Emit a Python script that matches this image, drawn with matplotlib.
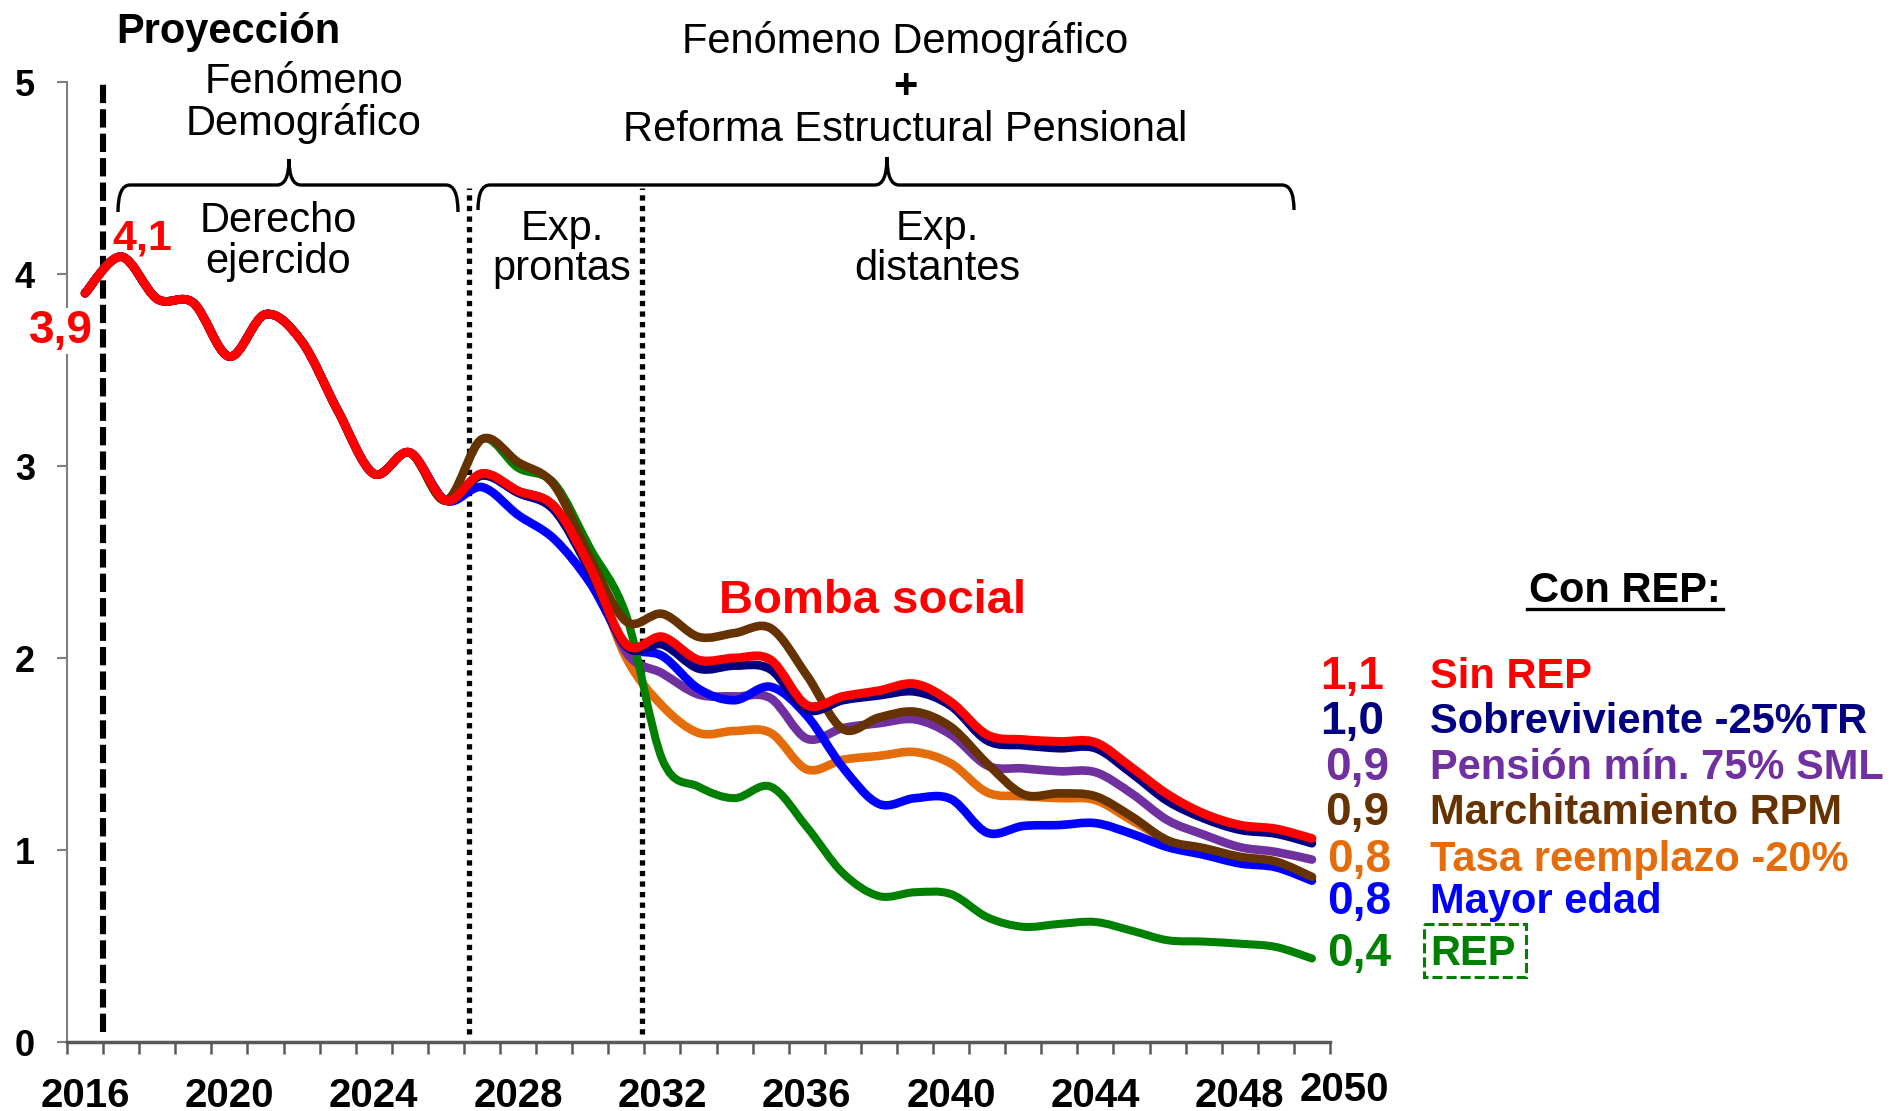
import numpy as np
import matplotlib
matplotlib.use("Agg")
import matplotlib.pyplot as plt
from matplotlib.path import Path
from matplotlib.patches import PathPatch, Rectangle
from matplotlib.lines import Line2D
from matplotlib.transforms import Affine2D

plt.rcParams['font.family'] = ['Liberation Sans', 'DejaVu Sans']

# ---------------- data ----------------
years = list(range(2016, 2051))
common = [3.90, 4.09, 3.87, 3.85, 3.57, 3.79, 3.65, 3.29, 2.96, 3.07, 2.82]  # 2016-2026

sin_rep = common + [2.96, 2.87, 2.79, 2.47, 2.07, 2.11, 1.99, 2.00, 1.99, 1.755, 1.80, 1.83,
                    1.865, 1.77, 1.60, 1.575, 1.565, 1.56, 1.43, 1.29, 1.19, 1.13, 1.11, 1.06]
sobreviviente = common + [2.95, 2.86, 2.77, 2.45, 2.06, 2.07, 1.945, 1.96, 1.94, 1.73, 1.78, 1.805,
                          1.825, 1.75, 1.57, 1.545, 1.53, 1.53, 1.40, 1.255, 1.165, 1.105, 1.085, 1.035]
pension_min = common + [2.96, 2.87, 2.79, 2.47, 2.03, 1.92, 1.81, 1.80, 1.79, 1.58, 1.635, 1.66,
                        1.68, 1.60, 1.44, 1.425, 1.41, 1.405, 1.295, 1.155, 1.08, 1.015, 0.99, 0.95]
marchitamiento = common + [3.14, 3.02, 2.90, 2.52, 2.19, 2.23, 2.11, 2.13, 2.155, 1.91, 1.63, 1.69,
                           1.72, 1.64, 1.45, 1.29, 1.295, 1.28, 1.175, 1.05, 1.01, 0.965, 0.94, 0.86]
tasa_reemplazo = common + [2.96, 2.87, 2.79, 2.47, 2.00, 1.75, 1.61, 1.62, 1.61, 1.42, 1.47, 1.49,
                           1.51, 1.45, 1.30, 1.28, 1.27, 1.26, 1.155, 1.05, 0.985, 0.94, 0.92, 0.855]
mayor_edad = common + [2.89, 2.745, 2.62, 2.39, 2.07, 2.01, 1.84, 1.78, 1.85, 1.70, 1.43, 1.24,
                       1.27, 1.265, 1.09, 1.125, 1.13, 1.14, 1.085, 1.015, 0.975, 0.93, 0.91, 0.84]
rep = common + [3.14, 2.99, 2.91, 2.57, 2.22, 1.47, 1.33, 1.27, 1.33, 1.12, 0.88, 0.76,
                0.78, 0.77, 0.65, 0.60, 0.615, 0.625, 0.58, 0.53, 0.523, 0.512, 0.495, 0.435]

x_labels = ['2016', '2020', '2024', '2028', '2032', '2036', '2040', '2044', '2048']
x_label_years = [2016, 2020, 2024, 2028, 2032, 2036, 2040, 2044, 2048]
y_ticks = [0, 1, 2, 3, 4, 5]

legend_values = ['1,1', '1,0', '0,9', '0,9', '0,8', '0,8', '0,4']
legend_names = ['Sin REP', 'Sobreviviente -25%TR', 'Pensión mín. 75% SML', 'Marchitamiento RPM',
                'Tasa reemplazo -20%', 'Mayor edad', 'REP']

RED = '#FF0000'; NAVY = '#000080'; PURPLE = '#7030A0'; BROWN = '#663300'
ORANGE = '#E46C0A'; BLUE = '#0000FF'; GREEN = '#008000'
legend_colors = [RED, NAVY, PURPLE, BROWN, ORANGE, BLUE, GREEN]

# ---------------- figure ----------------
W, H = 1896, 1111
fig = plt.figure(figsize=(W / 100, H / 100), dpi=100)
ax = fig.add_axes([67 / W, 1 - 1042 / H, (1330 - 67) / W, (1042 - 82) / H])
ax.set_xlim(2015.5, 2050.5)
ax.set_ylim(0, 5)

px = Affine2D().scale(1 / W, -1 / H).translate(0, 1) + fig.transFigure


def smooth_path(x, y):
    x = np.asarray(x, float); y = np.asarray(y, float)
    n = len(x)
    verts = [(x[0], y[0])]
    codes = [Path.MOVETO]
    for i in range(n - 1):
        p0 = np.array([x[max(i - 1, 0)], y[max(i - 1, 0)]])
        p1 = np.array([x[i], y[i]])
        p2 = np.array([x[i + 1], y[i + 1]])
        p3 = np.array([x[min(i + 2, n - 1)], y[min(i + 2, n - 1)]])
        c1 = p1 + (p2 - p0) / 6
        c2 = p2 - (p3 - p1) / 6
        verts += [tuple(c1), tuple(c2), tuple(p2)]
        codes += [Path.CURVE4] * 3
    return Path(verts, codes)


series = [(tasa_reemplazo, ORANGE, 6.2), (pension_min, PURPLE, 6.2), (mayor_edad, BLUE, 6.2),
          (rep, GREEN, 5.8), (marchitamiento, BROWN, 6.2), (sobreviviente, NAVY, 6.2),
          (sin_rep, RED, 6.4)]
for i, (vals, col, lw) in enumerate(series):
    patch = PathPatch(smooth_path(years, vals), fill=False, edgecolor=col, lw=lw,
                      capstyle='round', joinstyle='round', zorder=3 + i * 0.1)
    ax.add_patch(patch)

# vertical separators
ax.plot([2016.5, 2016.5], [0.05, 5.0], color='black', lw=4.4, dashes=(3.0, 1.0),
        clip_on=False, zorder=2)
for xv in [2026.65, 2031.43]:
    ax.plot([xv, xv], [0.04, 4.45], color='black', lw=3.8, dashes=(1.0, 1.0),
            clip_on=False, zorder=2, solid_capstyle='butt', dash_capstyle='butt')

# axes styling
for s in ['top', 'right']:
    ax.spines[s].set_visible(False)
ax.spines['left'].set_color('#7f7f7f'); ax.spines['left'].set_linewidth(1.5)
ax.spines['bottom'].set_color('#595959'); ax.spines['bottom'].set_linewidth(2.5)
ax.set_yticks(y_ticks)
ax.set_yticklabels([str(v) for v in y_ticks], fontsize=26, fontweight='bold')
ax.tick_params(axis='y', length=7.2, width=1.5, color='#7f7f7f', pad=16)
ax.set_xticks(x_label_years)
ax.set_xticklabels(x_labels, fontsize=29, fontweight='bold')
ax.tick_params(axis='x', which='major', length=0, pad=25)
ax.set_xticks([2015.5 + k for k in range(36)], minor=True)
ax.tick_params(axis='x', which='minor', length=8.6, width=1.8, color='#595959', direction='out')

# ---------------- annotations ----------------
def T(x, y, s, size, weight='normal', color='black', ha='center', **kw):
    fig.text(x / W, 1 - y / H, s, fontsize=size, fontweight=weight, color=color,
             ha=ha, va='baseline', **kw)

T(1344, 1101, '2050', 29, 'bold')
T(228, 43, 'Proyección', 30, 'bold')
T(304, 93, 'Fenómeno', 30)
T(304, 135, 'Demográfico', 30)
T(278, 232, 'Derecho', 30)
T(278, 273, 'ejercido', 30)
T(905, 53, 'Fenómeno Demográfico', 30)
T(905, 98, '+', 30, 'bold')
T(905, 141, 'Reforma Estructural Pensional', 30)
T(562, 240, 'Exp.', 30)
T(562, 280, 'prontas', 30)
T(937, 240, 'Exp.', 30)
T(937, 280, 'distantes', 30)
T(873, 613, 'Bomba social', 34, 'bold', RED)
T(142, 250, '4,1', 31, 'bold', RED)
T(61, 343, '3,9', 33, 'bold', RED,
  bbox=dict(facecolor='white', edgecolor='none', pad=1))


def brace(x0, x1, xm, yh, yb, yt, r=12):
    verts = [(x0, yb), (x0, yh), (x0 + r, yh), (xm - r, yh), (xm, yh), (xm, yt),
             (xm, yh), (xm + r, yh), (x1 - r, yh), (x1, yh), (x1, yb)]
    codes = [Path.MOVETO, Path.CURVE3, Path.CURVE3, Path.LINETO, Path.CURVE3, Path.CURVE3,
             Path.CURVE3, Path.CURVE3, Path.LINETO, Path.CURVE3, Path.CURVE3]
    fig.add_artist(PathPatch(Path(verts, codes), fill=False, edgecolor='black', lw=2.4,
                             transform=px))

brace(118, 458, 289, 185, 212, 159)
brace(478, 1294, 887, 185, 210, 157)

# legend block
T(1625, 602, 'Con REP:', 30, 'bold')
fig.add_artist(Line2D([1527, 1723], [609, 609], color='black', lw=2.4, transform=px))
row_y = [673, 718, 764, 809, 856, 898, 950]
num_x = [1320, 1320, 1325, 1325, 1327, 1327, 1327]
for yv, nx, val, name, col in zip(row_y, num_x, legend_values, legend_names, legend_colors):
    T(nx, yv + 16.4, val, 33, 'bold', col, ha='left')
    T(1430, yv + 14.9, name, 30, 'bold', col, ha='left')
fig.add_artist(Rectangle((1424, 924), 102, 53, fill=False, edgecolor=GREEN, lw=2.2,
                         linestyle=(0, (3.3, 1.3)), transform=px))

fig.savefig('out.png', dpi=100)
